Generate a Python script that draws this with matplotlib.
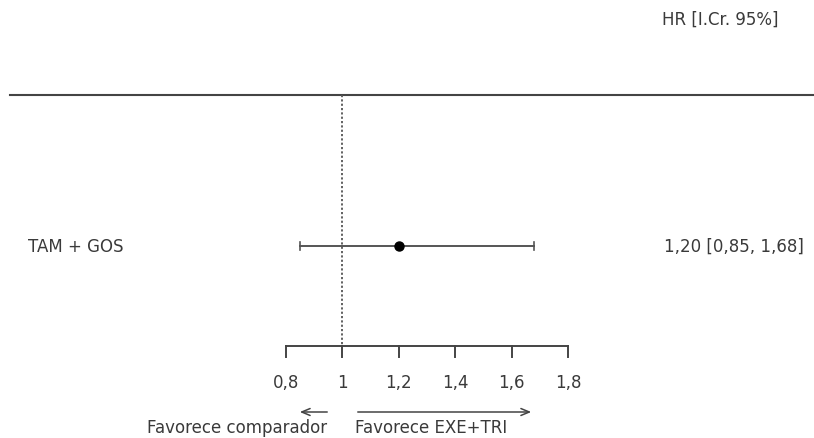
import matplotlib
matplotlib.use("Agg")
import matplotlib.pyplot as plt

# Data
study_labels = ["TAM + GOS"]
hr = [1.20]
ci_low = [0.85]
ci_high = [1.68]
hr_text = ["1,20 [0,85, 1,68]"]
ticks = [0.8, 1.0, 1.2, 1.4, 1.6, 1.8]
tick_labels = ["0,8", "1", "1,2", "1,4", "1,6", "1,8"]
header = "HR [I.Cr. 95%]"
left_note = "Favorece comparador"
right_note = "Favorece EXE+TRI"

plt.rcParams['font.family'] = ['DejaVu Sans']
W, H = 814, 439
fig = plt.figure(figsize=(W / 100, H / 100), dpi=100)
ax = fig.add_axes([0, 0, 1, 1])
x0_pix, scale = 286, 282.0
ax.set_xlim(0.8 - x0_pix / scale, 0.8 + (W - x0_pix) / scale)
ax.set_ylim(H, 0)
ax.axis('off')

def px(p):
    return 0.8 + (p - x0_pix) / scale

txt_col = '#3a3a3a'
line_col = '#444444'
fs = 12

# header and top rule
ax.text(px(662), 20, header, fontsize=fs, color=txt_col, va='center', ha='left')
ax.plot([px(10), px(814)], [96, 96], color=line_col, lw=1.5)

# reference line
ax.plot([1, 1], [96, 347], color='#555555', lw=1.3, ls=(0, (1.2, 1.2)))

# rows
row_y = [247]
for lab, m, lo, hi, t, y in zip(study_labels, hr, ci_low, ci_high, hr_text, row_y):
    ax.text(px(28), y, lab, fontsize=fs, color=txt_col, va='center', ha='left')
    ax.plot([lo, hi], [y, y], color='#555555', lw=1.4)
    ax.plot([lo, lo], [y - 4, y + 4], color='#555555', lw=1.2)
    ax.plot([hi, hi], [y - 4, y + 4], color='#555555', lw=1.2)
    ax.plot([m], [y], 'o', color='black', ms=6.5)
    ax.text(px(664), y, t, fontsize=fs, color=txt_col, va='center', ha='left')

# x axis
ax.plot([ticks[0], ticks[-1]], [347, 347], color=line_col, lw=1.4)
for tk, tl in zip(ticks, tick_labels):
    ax.plot([tk, tk], [347, 358], color=line_col, lw=1.4)
    ax.text(tk, 383, tl, fontsize=fs, color=txt_col, va='center', ha='center')

# arrows
ax.annotate('', xy=(px(297), 413), xytext=(px(330), 413),
            arrowprops=dict(arrowstyle='->,head_length=0.6,head_width=0.25',
                            color=line_col, lw=1.1))
ax.annotate('', xy=(px(534), 413), xytext=(px(355), 413),
            arrowprops=dict(arrowstyle='->,head_length=0.6,head_width=0.25',
                            color=line_col, lw=1.1))
ax.text(px(327), 428, left_note, fontsize=fs, color=txt_col, va='center', ha='right')
ax.text(px(355), 428, right_note, fontsize=fs, color=txt_col, va='center', ha='left')

fig.savefig('out.png', dpi=100)
